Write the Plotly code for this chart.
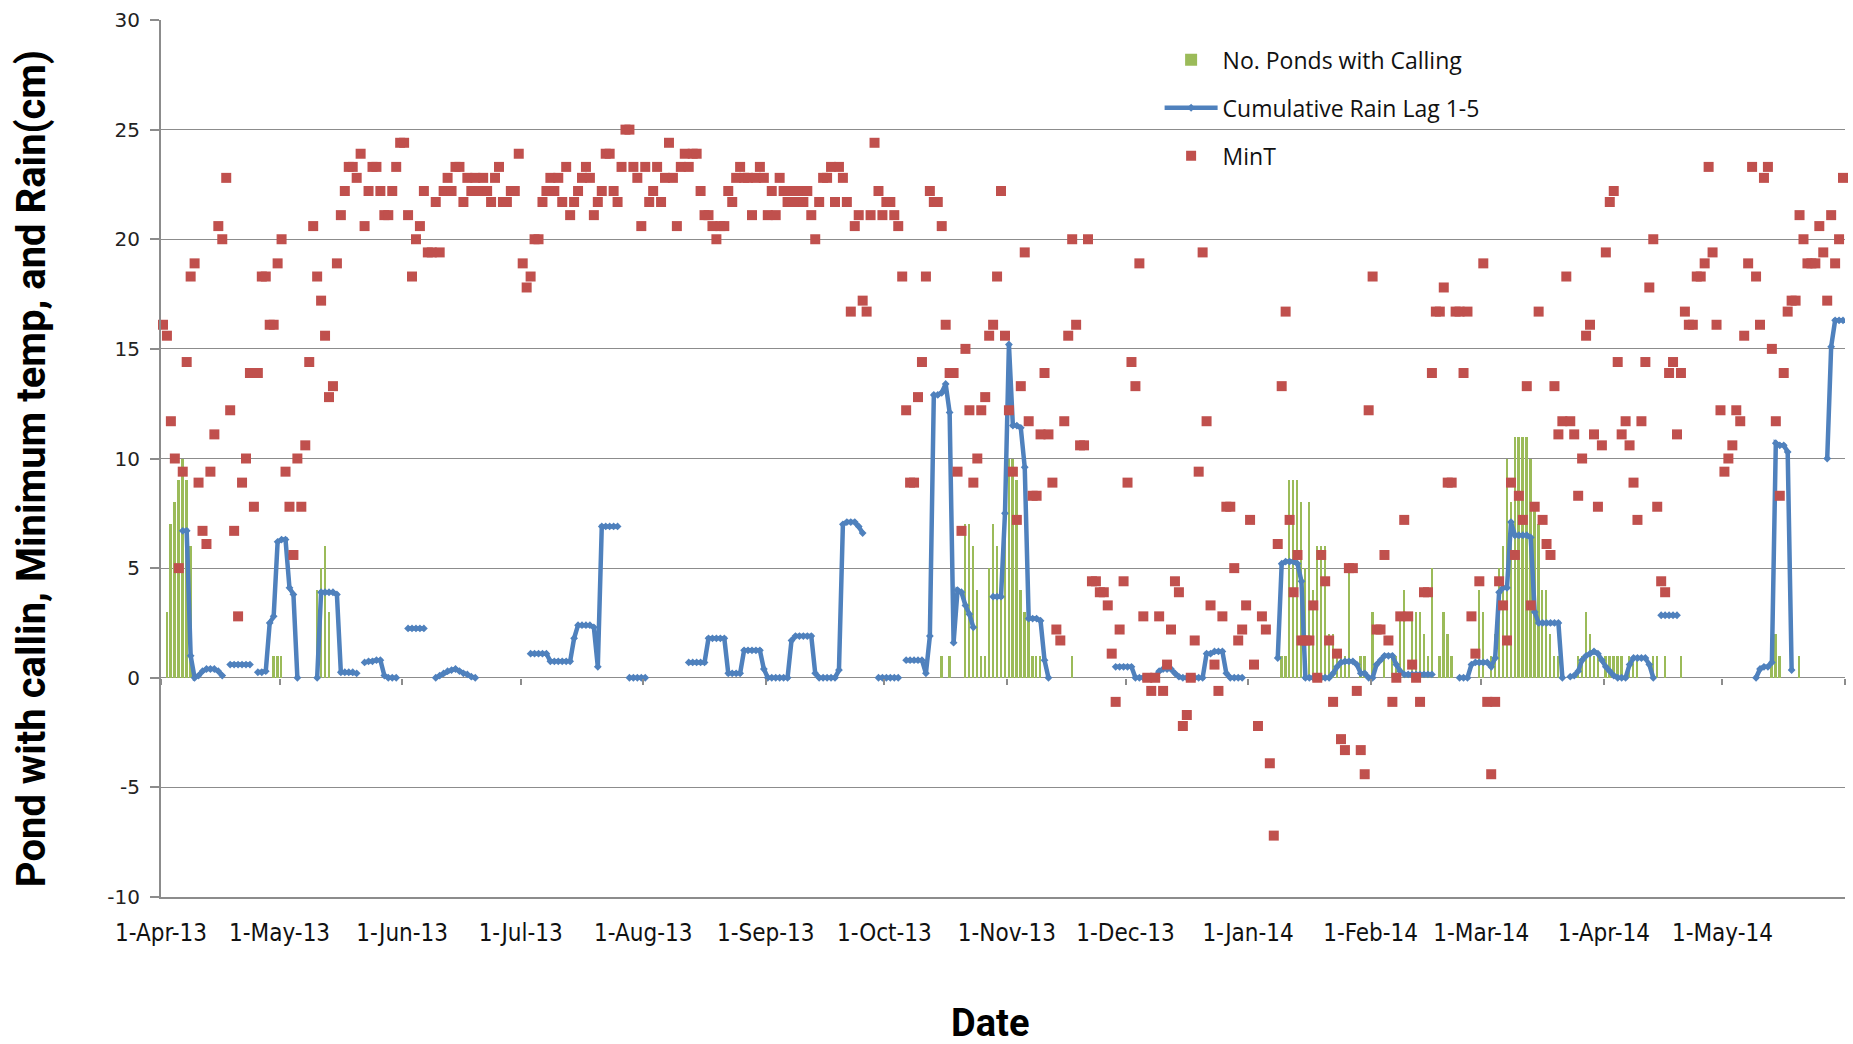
import pandas as pd
import plotly.graph_objects as go

N = None

# ---------------- Minimum temperature (MinT), one value per day ----------------
mint_apr13 = [16.1, 15.6, 11.7, 10.0, 5.0, 9.4, 14.4, 18.3, 18.9, 8.9, 6.7, 6.1, 9.4, 11.1, 20.6,
              20.0, 22.8, 12.2, 6.7, 2.8, 8.9, 10.0, 13.9, 7.8, 13.9, 18.3, 18.3, 16.1, 16.1, 18.9]
mint_may13 = [20.0, 9.4, 7.8, 5.6, 10.0, 7.8, 10.6, 14.4, 20.6, 18.3, 17.2, 15.6, 12.8, 13.3, 18.9,
              21.1, 22.2, 23.3, 23.3, 22.8, 23.9, 20.6, 22.2, 23.3, 23.3, 22.2, 21.1, 21.1, 22.2, 23.3, 24.4]
mint_jun13 = [24.4, 21.1, 18.3, 20.0, 20.6, 22.2, 19.4, 19.4, 21.7, 19.4, 22.2, 22.8, 22.2, 23.3, 23.3,
              21.7, 22.8, 22.2, 22.8, 22.2, 22.8, 22.2, 21.7, 22.8, 23.3, 21.7, 21.7, 22.2, 22.2, 23.9]
mint_jul13 = [18.9, 17.8, 18.3, 20.0, 20.0, 21.7, 22.2, 22.8, 22.2, 22.8, 21.7, 23.3, 21.1, 21.7, 22.2,
              22.8, 23.3, 22.8, 21.1, 21.7, 22.2, 23.9, 23.9, 22.2, 21.7, 23.3, 25.0, 25.0, 23.3, 22.8, 20.6]
mint_aug13 = [23.3, 21.7, 22.2, 23.3, 21.7, 22.8, 24.4, 22.8, 20.6, 23.3, 23.9, 23.3, 23.9, 23.9, 22.2,
              21.1, 21.1, 20.6, 20.0, 20.6, 20.6, 22.2, 21.7, 22.8, 23.3, 22.8, 22.8, 21.1, 22.8, 23.3, 22.8]
mint_sep13 = [21.1, 22.2, 21.1, 22.8, 22.2, 21.7, 22.2, 21.7, 22.2, 21.7, 22.2, 21.1, 20.0, 21.7, 22.8,
              22.8, 23.3, 21.7, 23.3, 22.8, 21.7, 16.7, 20.6, 21.1, 17.2, 16.7, 21.1, 24.4, 22.2, 21.1]
mint_oct13 = [21.7, 21.7, 21.1, 20.6, 18.3, 12.2, 8.9, 8.9, 12.8, 14.4, 18.3, 22.2, 21.7, 21.7, 20.6,
              16.1, 13.9, 13.9, 9.4, 6.7, 15.0, 12.2, 8.9, 10.0, 12.2, 12.8, 15.6, 16.1, 18.3, 22.2, 15.6]
mint_nov13 = [12.2, 9.4, 7.2, 13.3, 19.4, 11.7, 8.3, 8.3, 11.1, 13.9, 11.1, 8.9, 2.2, 1.7, 11.7,
              15.6, 20.0, 16.1, 10.6, 10.6, 20.0, 4.4, 4.4, 3.9, 3.9, 3.3, 1.1, -1.1, 2.2, 4.4]
mint_dec13 = [8.9, 14.4, 13.3, 18.9, 2.8, 0.0, -0.6, 0.0, 2.8, -0.6, 0.6, 2.2, 4.4, 3.9, -2.2,
              -1.7, 0.0, 1.7, 9.4, 19.4, 11.7, 3.3, 0.6, -0.6, 2.8, 7.8, 7.8, 5.0, 1.7, 2.2, 3.3]
mint_jan14 = [7.2, 0.6, -2.2, 2.8, 2.2, -3.9, -7.2, 6.1, 13.3, 16.7, 7.2, 3.9, 5.6, 1.7, 1.7,
              1.7, 3.3, 0.0, 5.6, 4.4, 1.7, -1.1, 1.1, -2.8, -3.3, 5.0, 5.0, -0.6, -3.3, -4.4, 12.2]
mint_feb14 = [18.3, 2.2, 2.2, 5.6, 1.7, -1.1, 0.0, 2.8, 7.2, 2.8, 0.6, 0.0, -1.1, 3.9, 3.9,
              13.9, 16.7, 16.7, 17.8, 8.9, 8.9, 16.7, 16.7, 13.9, 16.7, 2.8, 1.1, 4.4]
mint_mar14 = [18.9, -1.1, -4.4, -1.1, 4.4, 3.3, 1.7, 8.9, 5.6, 8.3, 7.2, 13.3, 3.3, 7.8, 16.7,
              7.2, 6.1, 5.6, 13.3, 11.1, 11.7, 18.3, 11.7, 11.1, 8.3, 10.0, 15.6, 16.1, 11.1, 7.8, 10.6]
mint_apr14 = [19.4, 21.7, 22.2, 14.4, 11.1, 11.7, 10.6, 8.9, 7.2, 11.7, 14.4, 17.8, 20.0, 7.8, 4.4,
              3.9, 13.9, 14.4, 11.1, 13.9, 16.7, 16.1, 16.1, 18.3, 18.3, 18.9, 23.3, 19.4, 16.1, 12.2]
mint_may14 = [9.4, 10.0, 10.6, 12.2, 11.7, 15.6, 18.9, 23.3, 18.3, 16.1, 22.8, 23.3, 15.0, 11.7, 8.3,
              13.9, 16.7, 17.2, 17.2, 21.1, 20.0, 18.9, 18.9, 18.9, 20.6, 19.4, 17.2, 21.1, 18.9, 20.0, 22.8]

# ---------------- Cumulative rain lag 1-5 (cm), one value per day ----------------
rain_apr13 = [N, N, N, N, N, 6.7, 6.7, 1.0, 0.0, 0.1, 0.3, 0.4, 0.4, 0.4, 0.3,
              0.1, N, 0.6, 0.6, 0.6, 0.6, 0.6, 0.6, N, 0.25, 0.25, 0.3, 2.5, 2.8, 6.2]
rain_may13 = [6.3, 6.3, 4.1, 3.8, 0.0, N, N, N, N, 0.0, 3.9, 3.9, 3.9, 3.9, 3.8,
              0.25, 0.25, 0.25, 0.25, 0.2, N, 0.7, 0.75, 0.75, 0.8, 0.8, 0.1, 0.0, 0.0, 0.0, N]
rain_jun13 = [N, 2.25, 2.25, 2.25, 2.25, 2.25, N, N, 0.0, 0.1, 0.2, 0.3, 0.35, 0.4, 0.3,
              0.2, 0.15, 0.05, 0.0, N, N, N, N, N, N, N, N, N, N, N]
rain_jul13 = [N, N, 1.1, 1.1, 1.1, 1.1, 1.1, 0.75, 0.75, 0.75, 0.75, 0.75, 0.75, 1.8, 2.4,
              2.4, 2.4, 2.4, 2.3, 0.5, 6.9, 6.9, 6.9, 6.9, 6.9, N, N, 0.0, 0.0, 0.0, 0.0]
rain_aug13 = [0.0, N, N, N, N, N, N, N, N, N, N, 0.7, 0.7, 0.7, 0.7,
              0.7, 1.8, 1.8, 1.8, 1.8, 1.8, 0.2, 0.2, 0.2, 0.2, 1.25, 1.25, 1.25, 1.25, 1.25, 0.4]
rain_sep13 = [0.0, 0.0, 0.0, 0.0, 0.0, 0.0, 1.7, 1.9, 1.9, 1.9, 1.9, 1.9, 0.2, 0.0, 0.0,
              0.0, 0.0, 0.0, 0.35, 7.0, 7.1, 7.1, 7.1, 6.9, 6.6, N, N, N, 0.0, 0.0]
rain_oct13 = [0.0, 0.0, 0.0, 0.0, N, 0.8, 0.8, 0.8, 0.8, 0.8, 0.2, 1.9, 12.9, 12.9, 13.0,
              13.4, 12.1, 1.6, 4.0, 3.9, 3.3, 2.9, 2.3, N, N, N, N, 3.7, 3.7, 3.7, 7.5]
rain_nov13 = [15.2, 11.5, 11.5, 11.4, 9.6, 2.7, 2.7, 2.7, 2.6, 0.8, 0.0, N, N, N, N,
              N, N, N, N, N, N, N, N, N, N, N, N, 0.5, 0.5, 0.5]
rain_dec13 = [0.5, 0.5, 0.0, 0.0, 0.0, 0.0, 0.0, 0.05, 0.3, 0.4, 0.4, 0.4, 0.2, 0.05, 0.0,
              0.0, 0.0, 0.0, 0.0, 0.0, 1.1, 1.1, 1.2, 1.2, 1.2, 0.2, 0.0, 0.0, 0.0, 0.0, N]
rain_jan14 = [N, N, N, N, N, N, N, 0.9, 5.2, 5.3, 5.3, 5.3, 5.2, 4.4, 0.0,
              0.0, 0.0, 0.0, 0.0, 0.0, 0.0, 0.2, 0.5, 0.7, 0.75, 0.75, 0.75, 0.6, 0.2, 0.2, 0.0]
rain_feb14 = [0.0, 0.6, 0.8, 1.0, 1.0, 1.0, 0.6, 0.3, 0.15, 0.15, 0.15, 0.15, 0.15, 0.15, 0.15,
              0.15, N, N, N, N, N, N, 0.0, 0.0, 0.0, 0.6, 0.7, 0.7]
rain_mar14 = [0.7, 0.7, 0.5, 0.9, 3.9, 4.1, 4.1, 7.1, 6.5, 6.5, 6.5, 6.5, 6.4, 3.0, 2.5,
              2.5, 2.5, 2.5, 2.5, 2.5, 0.0, N, 0.05, 0.1, 0.3, 0.8, 1.0, 1.1, 1.2, 1.1, 0.8]
rain_apr14 = [0.5, 0.3, 0.1, 0.0, 0.0, 0.0, 0.6, 0.9, 0.9, 0.9, 0.9, 0.6, 0.0, N, 2.85,
              2.85, 2.85, 2.85, 2.85, N, N, N, N, N, N, N, N, N, N, N]
rain_may14 = [N, N, N, N, N, N, N, N, 0.0, 0.4, 0.5, 0.5, 0.7, 10.7, 10.6,
              10.6, 10.3, 0.35, N, N, N, N, N, N, N, N, 10.0, 15.1, 16.3, 16.3, 16.3]

# ---------------- Number of ponds with calling, one value per day ----------------
ponds_apr13 = [0, 3, 7, 8, 9, 10, 9, 6, 0, 0, 0, 0, 0, 0, 0,
               0, 0, 0, 0, 0, 0, 0, 0, 0, 0, 0, 0, 0, 1, 1]
ponds_may13 = [1, 0, 0, 0, 0, 0, 0, 0, 0, 4, 5, 6, 3, 0, 0,
               0, 0, 0, 0, 0, 0, 0, 0, 0, 0, 0, 0, 0, 0, 0, 0]
ponds_jun13 = [0] * 30
ponds_jul13 = [0] * 31
ponds_aug13 = [0] * 31
ponds_sep13 = [0] * 30
ponds_oct13 = [0, 0, 0, 0, 0, 0, 0, 0, 0, 0, 0, 0, 0, 0, 1,
               0, 1, 0, 0, 0, 7, 7, 6, 4, 1, 1, 5, 7, 6, 5, 8]
ponds_nov13 = [10, 10, 9, 4, 3, 3, 1, 1, 1, 0, 0, 0, 0, 0, 0,
               0, 1, 0, 0, 0, 0, 0, 0, 0, 0, 0, 0, 0, 0, 0]
ponds_dec13 = [0] * 31
ponds_jan14 = [0, 0, 0, 0, 0, 0, 0, 0, 1, 1, 9, 9, 9, 8, 5,
               8, 4, 6, 6, 6, 2, 2, 1, 1, 1, 5, 0, 0, 1, 1, 0]
ponds_feb14 = [3, 0, 0, 1, 0, 1, 1, 3, 4, 0, 3, 3, 3, 2, 1,
               5, 0, 1, 3, 2, 1, 0, 0, 0, 0, 0, 0, 4]
ponds_mar14 = [3, 0, 1, 2, 5, 6, 10, 8, 11, 11, 11, 11, 10, 8, 7,
               4, 4, 2, 1, 1, 1, 0, 0, 0, 1, 1, 3, 2, 1, 1, 0]
ponds_apr14 = [1, 1, 1, 1, 1, 0, 1, 1, 1, 0, 0, 0, 1, 1, 0,
               1, 0, 0, 0, 1, 0, 0, 0, 0, 0, 0, 0, 0, 0, 0]
ponds_may14 = [0, 0, 0, 0, 0, 0, 0, 0, 0, 0, 0, 0, 1, 2, 1,
               0, 0, 0, 0, 1, 0, 0, 0, 0, 0, 0, 0, 0, 0, 0, 0]

tick_labels = ["1-Apr-13", "1-May-13", "1-Jun-13", "1-Jul-13", "1-Aug-13", "1-Sep-13", "1-Oct-13",
               "1-Nov-13", "1-Dec-13", "1-Jan-14", "1-Feb-14", "1-Mar-14", "1-Apr-14", "1-May-14"]
y_ticks = [-10, -5, 0, 5, 10, 15, 20, 25, 30]
y_tick_labels = ["-10", "-5", "0", "5", "10", "15", "20", "25", "30"]

# ---------------- assemble ----------------
mint = (mint_apr13 + mint_may13 + mint_jun13 + mint_jul13 + mint_aug13 + mint_sep13 + mint_oct13 +
        mint_nov13 + mint_dec13 + mint_jan14 + mint_feb14 + mint_mar14 + mint_apr14 + mint_may14)
rain = (rain_apr13 + rain_may13 + rain_jun13 + rain_jul13 + rain_aug13 + rain_sep13 + rain_oct13 +
        rain_nov13 + rain_dec13 + rain_jan14 + rain_feb14 + rain_mar14 + rain_apr14 + rain_may14)
ponds = (ponds_apr13 + ponds_may13 + ponds_jun13 + ponds_jul13 + ponds_aug13 + ponds_sep13 + ponds_oct13 +
         ponds_nov13 + ponds_dec13 + ponds_jan14 + ponds_feb14 + ponds_mar14 + ponds_apr14 + ponds_may14)

dates = pd.date_range("2013-04-01", periods=len(mint), freq="D")
xpos = dates + pd.Timedelta(hours=12)          # Excel date axis: points sit mid-day
month_ticks = pd.date_range("2013-04-01", "2014-05-01", freq="MS")
x_range = ["2013-04-01", "2014-06-01"]

GRID = "#8c8c8c"
TITLE_FONT = "Roboto, Liberation Sans, sans-serif"
fig = go.Figure()

fig.add_trace(go.Bar(
    x=xpos, y=[v if v else None for v in ponds], name="No. Ponds with Calling",
    marker=dict(color="#9bbb59", line=dict(width=0)), width=0.45 * 86400000,
    legendgroup="a",
))
fig.add_trace(go.Scatter(
    x=xpos, y=rain, name="Cumulative Rain Lag 1-5", mode="lines+markers",
    line=dict(color="#4f81bd", width=4.5), marker=dict(symbol="diamond", size=6, color="#4f81bd"),
    connectgaps=False, legendgroup="b",
))
fig.add_trace(go.Scatter(
    x=xpos, y=mint, name="MinT", mode="markers",
    marker=dict(symbol="square", size=10, color="#c0504d", line=dict(width=0)),
    cliponaxis=False, legendgroup="c",
))
# helper trace so the tick-mark axis on the zero line is rendered
fig.add_trace(go.Scatter(x=[dates[0]], y=[None], xaxis="x2", showlegend=False, hoverinfo="skip"))

fig.update_layout(
    width=1853, height=1044,
    margin=dict(l=161, r=8, t=18, b=147),
    paper_bgcolor="white", plot_bgcolor="white",
    bargap=0,
    showlegend=True,
    legend=dict(x=0.593, y=0.979, xanchor="left", yanchor="top", bgcolor="rgba(0,0,0,0)",
                font=dict(family="Open Sans", size=23, color="#111"),
                itemwidth=53, tracegroupgap=15, traceorder="grouped"),
    xaxis=dict(type="date", range=x_range, tickvals=month_ticks, ticktext=tick_labels,
               showgrid=False, showline=True, linecolor=GRID, linewidth=1.5, ticks="",
               tickfont=dict(family="Liberation Sans Narrow, DejaVu Sans Condensed, sans-serif",
                             size=24, color="#111"),
               ticklabelstandoff=13, zeroline=False),
    xaxis2=dict(type="date", range=x_range, overlaying="x", anchor="free", position=0.25,
                tickvals=list(month_ticks) + [pd.Timestamp("2014-06-01")],
                ticks="outside", ticklen=6, tickwidth=1.5, tickcolor=GRID,
                showticklabels=False, showgrid=False, showline=False, zeroline=False),
    yaxis=dict(range=[-10, 30], tickvals=y_ticks, ticktext=y_tick_labels,
               showgrid=True, gridcolor=GRID, gridwidth=1.4,
               showline=True, linecolor=GRID, linewidth=2, ticks="outside", ticklen=9,
               tickcolor=GRID, tickwidth=1.5, zeroline=False,
               tickfont=dict(family="DejaVu Sans", size=20, color="#222"),
               ticklabelstandoff=6),
    annotations=[
        dict(text="<b>Pond with callin, Minimum temp, and Rain(cm)</b>", xref="paper", yref="paper",
             x=-0.0772, y=0.489, xanchor="center", yanchor="middle", textangle=-90, showarrow=False,
             font=dict(family=TITLE_FONT, size=40, color="#000")),
        dict(text="<b>Date</b>", xref="paper", yref="paper", x=0.4923, y=-0.144,
             xanchor="center", yanchor="middle", showarrow=False,
             font=dict(family=TITLE_FONT, size=38, color="#000")),
    ],
)

fig.write_html("out.html", config={"displayModeBar": False},
               post_script="document.body.style.margin='0px';")
